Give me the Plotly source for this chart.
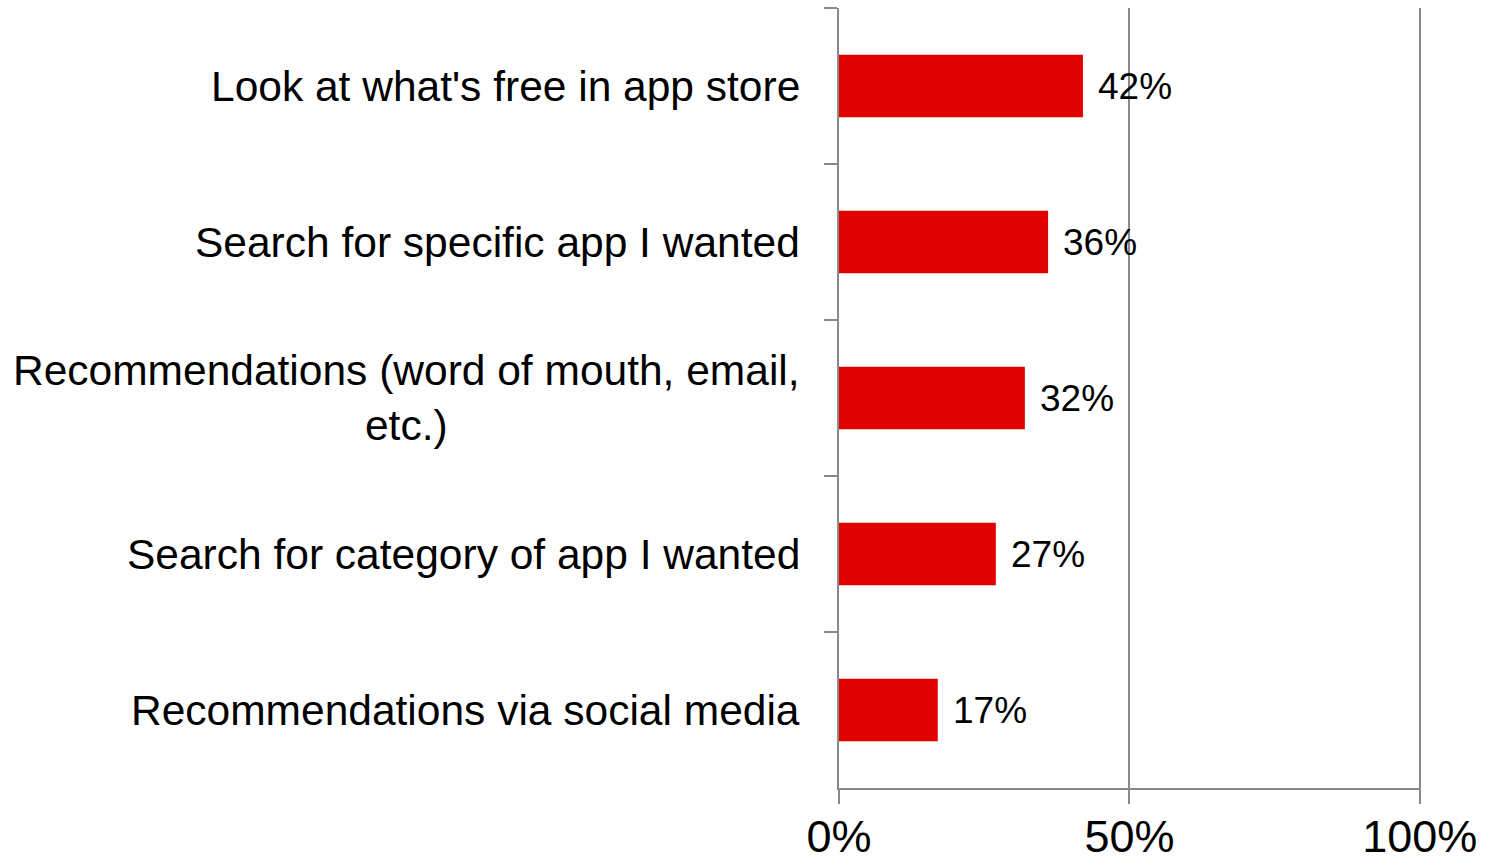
import plotly.graph_objects as go

# Survey answers, listed top to bottom as they appear on the chart
categories = [
    "Look at what's free in app store",
    "Search for specific app I wanted",
    "Recommendations (word of mouth, email,<br>etc.)",
    "Search for category of app I wanted",
    "Recommendations via social media",
]
shares = [42, 36, 32, 27, 17]  # percent of respondents

x_ticks = [0, 50, 100]
x_tick_labels = ["0%", "50%", "100%"]

FONT = "Liberation Sans, Arial, sans-serif"
AXIS_GREY = "#8a8a8a"
BAR_RED = "#e10000"

fig = go.Figure(
    go.Bar(
        x=shares,
        y=categories,
        orientation="h",
        marker=dict(color=BAR_RED, line=dict(width=0)),
        width=0.4,
        hoverinfo="skip",
    )
)

# Value labels placed just past the end of each bar
for cat, val in zip(categories, shares):
    fig.add_annotation(
        x=val,
        y=cat,
        text=f"{val}%",
        showarrow=False,
        xanchor="left",
        yanchor="middle",
        xshift=13,
        font=dict(family=FONT, size=37, color="#000000"),
    )

# Category names, right-aligned against the axis with centred line wrapping
for cat in categories:
    fig.add_annotation(
        x=0,
        xref="paper",
        y=cat,
        yref="y",
        text=cat,
        showarrow=False,
        xanchor="right",
        yanchor="middle",
        align="center",
        xshift=-37,
        font=dict(family=FONT, size=42.5, color="#000000"),
    )

fig.update_layout(
    width=1490,
    height=865,
    margin=dict(l=839, r=69, t=8, b=77),
    paper_bgcolor="#ffffff",
    plot_bgcolor="#ffffff",
    showlegend=False,
    font=dict(family=FONT, color="#000000"),
)

fig.update_xaxes(
    range=[0, 100.2],
    tickvals=x_ticks,
    ticktext=x_tick_labels,
    tickfont=dict(family=FONT, size=45, color="#000000"),
    showgrid=True,
    gridcolor=AXIS_GREY,
    gridwidth=1.5,
    zeroline=False,
    showline=True,
    linecolor=AXIS_GREY,
    linewidth=1.5,
    ticks="outside",
    ticklen=14,
    tickwidth=1.5,
    tickcolor=AXIS_GREY,
    ticklabelstandoff=-6,
    automargin=False,
)

fig.update_yaxes(
    autorange="reversed",
    showticklabels=False,
    showgrid=False,
    zeroline=False,
    showline=True,
    linecolor=AXIS_GREY,
    linewidth=1.5,
    ticks="outside",
    tickson="boundaries",
    ticklen=13,
    tickwidth=1.5,
    tickcolor=AXIS_GREY,
    automargin=False,
)

fig.write_html("out.html")
